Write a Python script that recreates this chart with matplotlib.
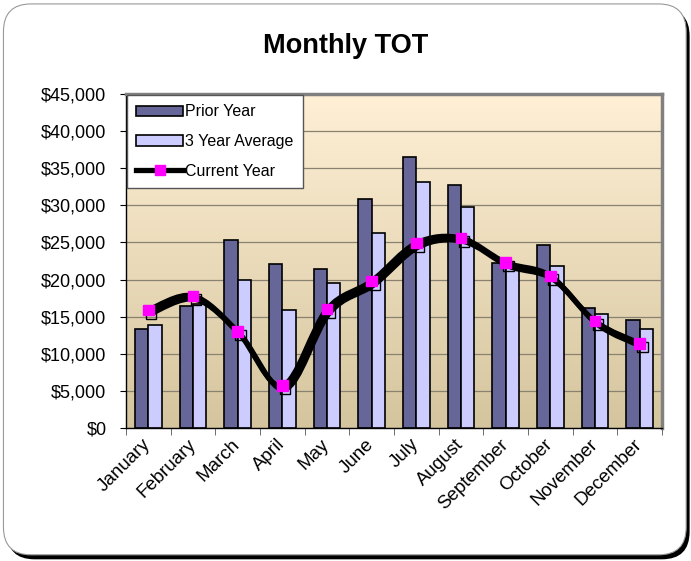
import numpy as np
import matplotlib
matplotlib.use("Agg")
import matplotlib.pyplot as plt
import matplotlib.patheffects as pe
from matplotlib.path import Path
from matplotlib.patches import PathPatch, FancyBboxPatch
from matplotlib.ticker import FuncFormatter, MultipleLocator

plt.rcParams['font.family'] = ['Liberation Sans', 'DejaVu Sans']

months = ["January", "February", "March", "April", "May", "June", "July",
          "August", "September", "October", "November", "December"]
prior_year = [13300, 16500, 25300, 22100, 21400, 30900, 36500, 32700, 22200, 24700, 16200, 14600]
three_year_avg = [13900, 16700, 20000, 15900, 19600, 26300, 33100, 29800, 21800, 21800, 15400, 13300]
current_year = [15900, 17800, 13000, 5700, 16000, 19800, 24900, 25600, 22300, 20500, 14400, 11400]

fig = plt.figure(figsize=(6.91, 5.61), dpi=100)

# chart area frame with shadow
shadow = FancyBboxPatch((0.010, 0.003), 0.988, 0.982, boxstyle="round,pad=0,rounding_size=0.04",
                        transform=fig.transFigure, facecolor='black', edgecolor='none', zorder=-2,
                        mutation_aspect=691 / 561)
frame = FancyBboxPatch((0.005, 0.011), 0.988, 0.982, boxstyle="round,pad=0,rounding_size=0.04",
                       transform=fig.transFigure, facecolor='white', edgecolor='#999999', lw=0.8,
                       zorder=-1, mutation_aspect=691 / 561)
fig.patches.extend([shadow, frame])

ax = fig.add_axes([0.1823, 0.2371, 0.7757, 0.5953])
x = np.arange(len(months))
ax.set_xlim(-0.5, len(months) - 0.5)
ax.set_ylim(0, 45000)

# gradient plot background
grad = np.linspace(0, 1, 256).reshape(-1, 1)
top = np.array([255, 240, 214]) / 255
bot = np.array([213, 197, 158]) / 255
img = top + (bot - top) * grad[:, :, None] * np.ones((1, 1, 3))
ax.imshow(img, extent=[-0.5, len(months) - 0.5, 0, 45000], aspect='auto', zorder=0)

ax.yaxis.set_major_locator(MultipleLocator(5000))
ax.grid(axis='y', color='#8a8270', lw=0.9, zorder=1)

w = 0.3
b1 = ax.bar(x - w / 2, prior_year, w, color='#666699', edgecolor='black', lw=1.2, zorder=2)
b2 = ax.bar(x + w / 2, three_year_avg, w, color='#CCCCFF', edgecolor='black', lw=1.2, zorder=2)

# smoothed line (bezier through the points)
pts = np.column_stack([x, current_year]).astype(float)
verts = [pts[0]]
codes = [Path.MOVETO]
for i in range(len(pts) - 1):
    p0 = pts[max(i - 1, 0)]
    p1 = pts[i]
    p2 = pts[i + 1]
    p3 = pts[min(i + 2, len(pts) - 1)]
    verts += [p1 + (p2 - p0) / 6, p2 - (p3 - p1) / 6, p2]
    codes += [Path.CURVE4] * 3
shadow_fx = [pe.SimpleLineShadow(offset=(2, -2.5), shadow_color='black', alpha=1), pe.Normal()]
curve = PathPatch(Path(verts, codes), facecolor='none', edgecolor='black', lw=3.8,
                  zorder=3, path_effects=shadow_fx, capstyle='round', joinstyle='round')
ax.add_patch(curve)
ax.plot(x, current_year, ls='none', marker='s', ms=7.5, mfc='#FF00FF', mec='#FF00FF', zorder=4,
        path_effects=shadow_fx)
h3, = ax.plot([], [], color='black', lw=3.8, marker='s', ms=7, mfc='#FF00FF', mec='#FF00FF')

# axes styling
for s in ['top', 'right']:
    ax.spines[s].set_color('#808080')
    ax.spines[s].set_linewidth(2.5)
ax.spines['left'].set_color('black')
ax.spines['bottom'].set_color('black')
ax.spines['left'].set_linewidth(1)
ax.spines['bottom'].set_linewidth(1)

ax.yaxis.set_major_formatter(FuncFormatter(lambda v, p: "${:,.0f}".format(v)))
ax.tick_params(axis='y', labelsize=13, length=4.5, direction='out', pad=9.5)
ax.set_xticks(x)
ax.set_xticklabels(months, rotation=45, ha='right', va='center', rotation_mode='anchor', fontsize=13.5)
ax.set_xticks(np.arange(-0.5, len(months), 1), minor=True)
ax.tick_params(axis='x', which='major', length=0, pad=10)
ax.tick_params(axis='x', which='minor', length=5, direction='out', color='#555555')

leg = ax.legend([b1, b2, h3], ['Prior Year', '3 Year Average', 'Current Year'],
                loc='upper left', bbox_to_anchor=(0.0, 1.0), fontsize=11.5, frameon=True,
                fancybox=False, edgecolor='#555555', framealpha=1, handlelength=2.9, handleheight=0.6,
                handletextpad=0.12, labelspacing=0.92, borderpad=0.6, borderaxespad=0.05)
leg.get_frame().set_linewidth(1)
leg.set_zorder(5)

fig.text(0.5, 0.918, "Monthly TOT", ha='center', va='center', fontsize=19.5, fontweight='bold')

fig.savefig("out.png", dpi=100)
